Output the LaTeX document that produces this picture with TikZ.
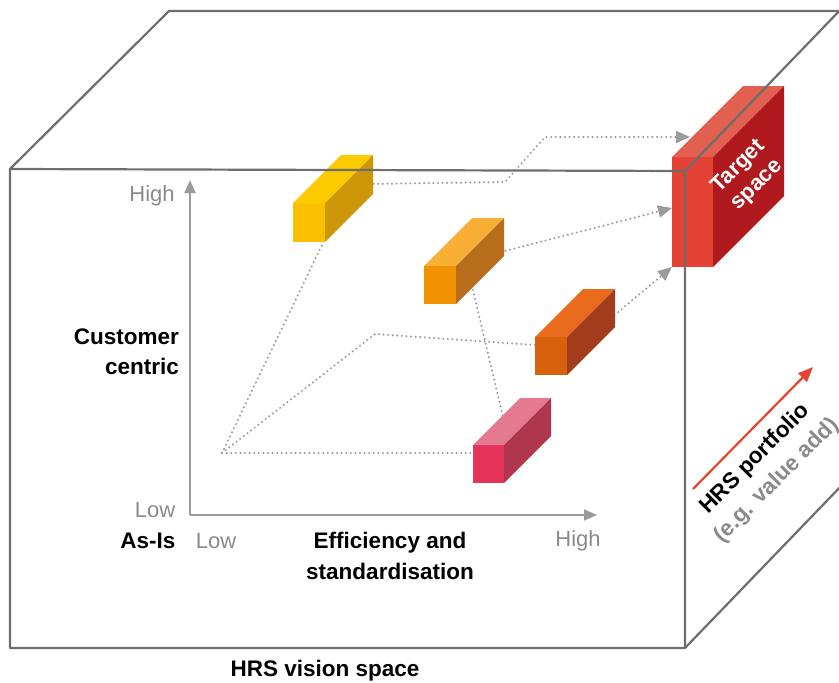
\documentclass[tikz,border=0pt]{standalone}
\usepackage{fontspec}
\setmainfont{Liberation Sans}
\usetikzlibrary{arrows.meta}
\definecolor{hrsframe}{HTML}{6E6E6E}
\definecolor{hrsaxis}{HTML}{9B9B9B}
\definecolor{hrsgrey}{HTML}{8A8A8A}
\definecolor{hrsred}{HTML}{E8432E}
\definecolor{yellowfront}{HTML}{FCBF00}
\definecolor{yellowtop}{HTML}{FDCA00}
\definecolor{yellowside}{HTML}{CE970A}
\definecolor{amberfront}{HTML}{F39200}
\definecolor{ambertop}{HTML}{F7B035}
\definecolor{amberside}{HTML}{B86E1A}
\definecolor{rustfront}{HTML}{D8610E}
\definecolor{rusttop}{HTML}{EA6A1E}
\definecolor{rustside}{HTML}{A33B1D}
\definecolor{pinkfront}{HTML}{E5335A}
\definecolor{pinktop}{HTML}{E37A8F}
\definecolor{pinkside}{HTML}{AE374D}
\definecolor{targetfront}{HTML}{E34234}
\definecolor{targettop}{HTML}{E26050}
\definecolor{targetside}{HTML}{B0191E}
\tikzset{
  edge3d/.style={draw=hrsframe, line width=2.2pt, line join=round},
  axis/.style={-{Triangle[length=13pt,width=11pt]}, draw=hrsaxis, line width=2pt},
  trail/.style={draw=hrsaxis, line width=2.3pt, line cap=round, dash pattern=on 0pt off 4.6pt},
  trailarr/.style={trail, -{Triangle[length=14pt,width=12pt]}},
  tick/.style={font=\fontsize{22}{26}\selectfont, text=hrsgrey, inner sep=0pt},
  lbl/.style={font=\bfseries\fontsize{22.5}{30.5}\selectfont, inner sep=0pt},
}
% block: name, front top-left, width, height, depth, colour prefix
\newcommand{\hrsblock}[6]{%
  \coordinate (#1) at (#2);
  \fill[#6front] (#1) rectangle ++(#3,#4);
  \fill[#6top] (#1) -- ++(#5,-#5) -- ++(#3,0) -- ++(-#5,#5) -- cycle;
  \fill[#6side] (#1) ++(#3,0) -- ++(#5,-#5) -- ++(0,#4) -- ++(-#5,#5) -- cycle;
}
\begin{document}
\begin{tikzpicture}[x=1pt,y=-1pt]
  \useasboundingbox (0,0) rectangle (839,683);
  % axes
  \coordinate (orig) at (190,515);
  \coordinate (ytop) at (190,180);
  \coordinate (xend) at (597,515);
  \draw[axis] (orig) -- (ytop);
  \draw[axis] (orig) -- (xend);
  \node[tick] (yhigh) at (152,196) {High};
  \node[tick] (ylow) at (155,510) {Low};
  \node[tick] (xlow) at (216,541) {Low};
  \node[tick] (xhigh) at (578,541) {High};
  \node[lbl] (asis) at (148,541) {As-Is};
  \node[lbl, align=center] (xlab) at (390,556) {Efficiency and\\standardisation};
  \node[lbl, align=right, anchor=east] (ylab) at (179,352) {Customer\\centric};
  \node[lbl] (vision) at (325,671) {HRS vision space};
  % dotted trails
  \coordinate (start) at (222,453);
  \coordinate (yellowtail) at (322,245);
  \coordinate (kneeA) at (375,334);
  \coordinate (rusttail) at (535,345);
  \coordinate (pinktail) at (474,453);
  \coordinate (ambertail) at (473,290);
  \coordinate (pinkhead) at (503,417);
  \coordinate (yellowout) at (369,184);
  \coordinate (kneeB) at (505,182);
  \coordinate (kneeC) at (545,137);
  \coordinate (targettop) at (690,137);
  \coordinate (amberout) at (501,252);
  \coordinate (targetmid) at (672,208);
  \coordinate (rustout) at (611,318);
  \coordinate (targetlow) at (672,267);
  \draw[trail] (start) -- (yellowtail);
  \draw[trail] (start) -- (kneeA) -- (rusttail);
  \draw[trail] (start) -- (pinktail);
  \draw[trail] (ambertail) -- (pinkhead);
  \draw[trailarr] (yellowout) -- (kneeB) -- (kneeC) -- (targettop);
  \draw[trailarr] (amberout) -- (targetmid);
  \draw[trailarr] (rustout) -- (targetlow);
  % blocks
  \hrsblock{yellow}{293,203}{32}{39}{48}{yellow}
  \hrsblock{amber}{424,266}{32}{38}{48}{amber}
  \hrsblock{rust}{535,337}{32}{38}{48}{rust}
  \hrsblock{pink}{473,445}{31}{38}{47}{pink}
  \hrsblock{target}{672,157}{41}{110}{71}{target}
  \node[font=\bfseries\fontsize{22}{26}\selectfont, text=white, align=center, rotate=45] (targetlbl) at (748,176) {Target\\space};
  % portfolio arrow
  \coordinate (pfrom) at (693,489);
  \coordinate (pto) at (813,367);
  \draw[-{Triangle[length=15pt,width=12pt]}, draw=hrsred, line width=2.2pt] (pfrom) -- (pto);
  \node[lbl, align=center, rotate=45] (portfolio) at (766,470) {HRS portfolio\\\textcolor{hrsgrey}{(e.g. value add)}};
  % cube frame
  \draw[edge3d] (10,169) -- (685,171) -- (685,648) -- (10,648) -- cycle;
  \draw[edge3d] (10,169) -- (169,11) -- (845,11);
  \draw[edge3d] (685,171) -- (845,5);
  \draw[edge3d] (685,648) -- (845,482);
\end{tikzpicture}
\end{document}
